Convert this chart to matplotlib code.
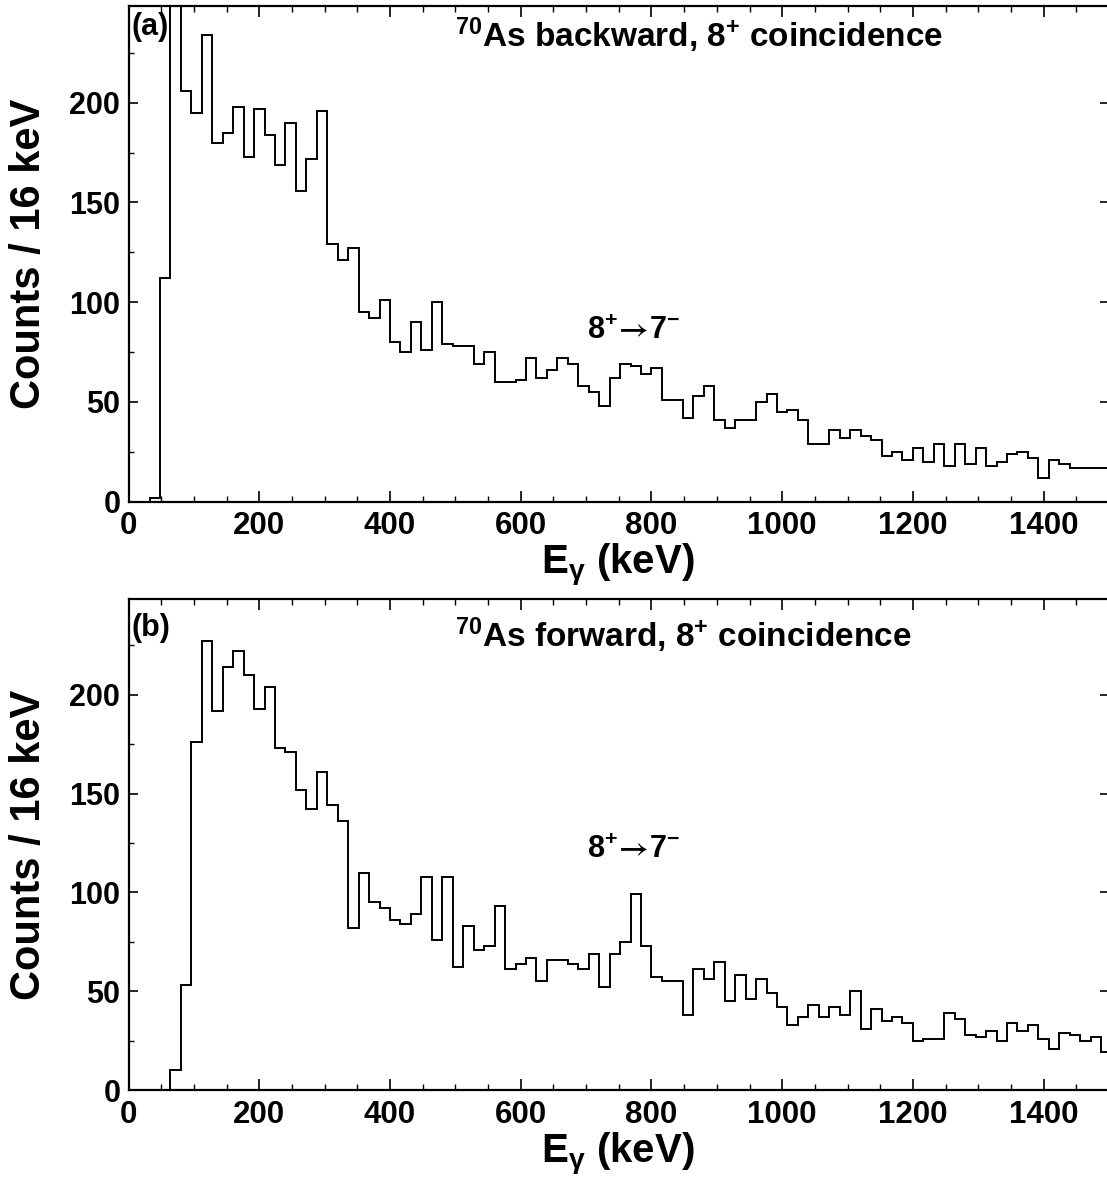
import matplotlib
matplotlib.use('Agg')
import matplotlib.pyplot as plt
import numpy as np
from matplotlib.ticker import MultipleLocator

plt.rcParams['font.family'] = ['Liberation Sans', 'DejaVu Sans']
plt.rcParams['font.weight'] = 'bold'
plt.rcParams['mathtext.fontset'] = 'custom'
plt.rcParams['mathtext.rm'] = 'Liberation Sans:bold'
plt.rcParams['mathtext.it'] = 'Liberation Sans:bold:italic'
plt.rcParams['mathtext.bf'] = 'Liberation Sans:bold'
plt.rcParams['mathtext.sf'] = 'STIXGeneral'
plt.rcParams['mathtext.default'] = 'rm'
plt.rcParams['mathtext.fallback'] = 'stix'

# ---------------- data ----------------
bin_width = 16  # keV
counts_backward = [0, 0, 2, 112, 300, 206, 195, 234, 180, 185, 198, 173, 197, 184, 169, 190,
                   156, 172, 196, 129, 121, 127, 95, 92, 101, 80, 75, 90, 76, 100, 79, 78,
                   78, 69, 75, 60, 60, 61, 72, 62, 66, 72, 69, 58, 55, 48, 62, 69,
                   68, 64, 67, 51, 51, 42, 53, 58, 41, 37, 41, 41, 50, 54, 45, 46,
                   41, 29, 29, 36, 32, 36, 33, 31, 23, 25, 21, 27, 20, 29, 18, 29,
                   19, 27, 18, 20, 24, 25, 22, 12, 21, 19, 17, 17, 17, 17]
counts_forward = [0, 0, 0, 0, 10, 53, 176, 227, 192, 214, 222, 210, 193, 204, 173, 171,
                  152, 142, 161, 144, 136, 82, 110, 95, 92, 86, 84, 89, 108, 76, 108, 62,
                  83, 71, 73, 93, 61, 64, 67, 55, 66, 66, 64, 61, 69, 52, 69, 75,
                  99, 73, 57, 55, 55, 38, 61, 56, 65, 45, 58, 46, 56, 49, 42, 33,
                  37, 43, 37, 42, 38, 50, 31, 41, 35, 37, 34, 25, 26, 26, 39, 36,
                  28, 27, 30, 25, 34, 30, 33, 26, 21, 29, 28, 25, 27, 19]
panel_tags = ['(a)', '(b)']
panel_titles = [r'$^{70}$As backward, 8$^{+}$ coincidence',
                r'$^{70}$As forward, 8$^{+}$ coincidence']
transition_label = r'$8^{+}\!\mathsf{\rightarrow}\!7^{-}$'
x_label = r'E$_{\gamma}$ (keV)'
y_label = 'Counts / 16 keV'

W, H = 1107, 1180
fig = plt.figure(figsize=(W / 100, H / 100), dpi=100)

left_px, right_px = 128.6, 1109
panels = [
    dict(counts=counts_backward, top=6, bottom=501.7, title_x=500, title_y=234,
         tag_y=238, ann_y=85.5, xlab_base=574),
    dict(counts=counts_forward, top=599, bottom=1090, title_x=500, title_y=230,
         tag_y=234, ann_y=121.5, xlab_base=1163),
]

for i, p in enumerate(panels):
    ax = fig.add_axes([left_px / W, 1 - p['bottom'] / H, (right_px - left_px) / W,
                       (p['bottom'] - p['top']) / H])
    vals = np.array(p['counts'], dtype=float)
    edges = np.arange(len(vals) + 1) * bin_width
    ax.stairs(vals, edges, color='black', linewidth=1.4, baseline=0)
    ax.set_xlim(0, 1500)
    ax.set_ylim(0, 248.5)
    ax.xaxis.set_major_locator(MultipleLocator(200))
    ax.xaxis.set_minor_locator(MultipleLocator(50))
    ax.yaxis.set_major_locator(MultipleLocator(50))
    ax.yaxis.set_minor_locator(MultipleLocator(25))
    ax.tick_params(axis='x', which='major', direction='in', length=8, width=1.2,
                   top=True, labelsize=22.5, pad=7)
    ax.tick_params(axis='x', which='minor', direction='in', length=4, width=1.0, top=True)
    ax.tick_params(axis='y', which='major', direction='in', length=6.5, width=1.2,
                   right=True, labelsize=22, pad=6)
    ax.tick_params(axis='y', which='minor', direction='in', length=3.5, width=1.0,
                   right=False)
    for lab in ax.get_xticklabels() + ax.get_yticklabels():
        lab.set_fontweight('bold')
    for s in ax.spines.values():
        s.set_linewidth(1.6)

    ax.text(4, p['tag_y'], panel_tags[i], fontsize=22, fontweight='bold',
            ha='left', va='center')
    ax.text(p['title_x'], p['title_y'], panel_titles[i], fontsize=24, fontweight='bold',
            ha='left', va='center')
    ax.text(701, p['ann_y'], transition_label, fontsize=22, fontweight='bold',
            ha='left', va='center')

    fig.text(29 / W, 1 - (p['top'] + p['bottom']) / 2 / H, y_label, rotation=90,
             fontsize=30, fontweight='bold', ha='center', va='center')
    fig.text((left_px + 1107) / 2 / W, 1 - p['xlab_base'] / H, x_label, fontsize=29,
             fontweight='bold', ha='center', va='baseline')

fig.savefig('out.png', dpi=100)
